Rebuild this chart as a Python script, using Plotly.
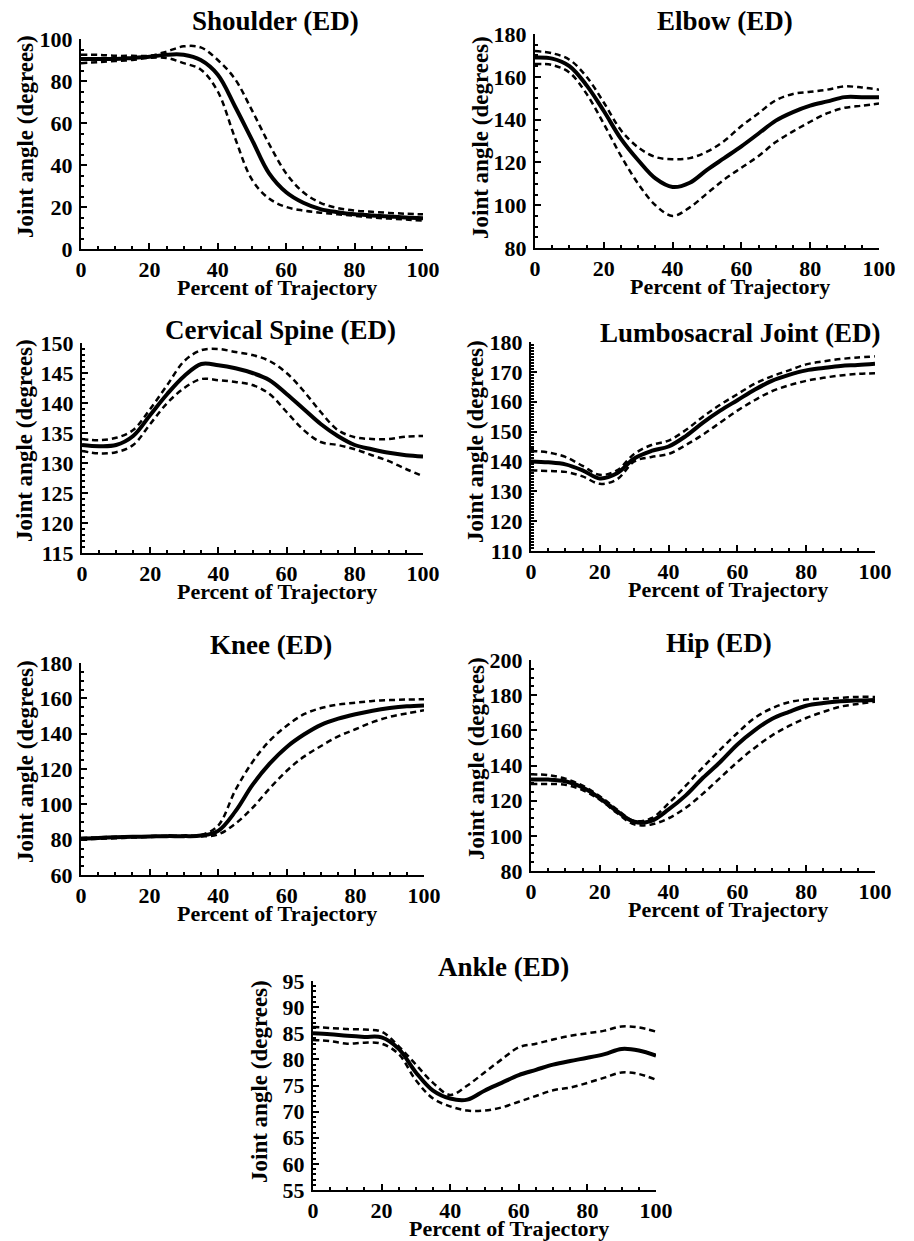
import plotly.graph_objects as go

# ---------------- data ----------------
pct = [0, 5, 10, 15, 20, 25, 30, 35, 40, 45, 50, 55, 60, 65, 70, 75, 80, 85, 90, 95, 100]

shoulder_mean = [90.5, 90.5, 90.5, 91, 91.5, 92.5, 92.5, 90, 83, 68, 52, 36, 27, 22, 19, 17.5, 16.5, 16, 15.5, 15, 14.7]
shoulder_upper = [92.5, 92.5, 92, 92, 92, 94, 96.5, 96, 90, 81, 66, 50, 36, 27, 22, 19.5, 18.3, 17.7, 17.2, 16.8, 16.5]
shoulder_lower = [88.5, 89, 89.5, 90, 91, 91, 88.5, 85.5, 75, 53, 33, 24, 20, 18.3, 17.3, 16.5, 15.8, 15, 14.5, 14, 13.5]

elbow_mean = [169, 168.5, 165, 156, 144, 131, 121, 112.5, 108.5, 110.5, 116.5, 122, 127.5, 133.5, 139.5, 143.5, 146.5, 148.5, 150.5, 150.5, 150.5]
elbow_upper = [172, 171, 168, 160, 148, 135, 127, 122.5, 121.5, 122, 125, 130, 137, 143, 149, 152, 153, 154, 155.5, 155, 154]
elbow_lower = [166, 165.5, 162, 152, 138, 123, 110, 100, 95, 99, 105.5, 112, 117.5, 123, 129.5, 134.5, 139, 143, 145.5, 146.5, 147.5]

cervical_mean = [133, 132.8, 133, 134.5, 138, 141.5, 144.5, 146.5, 146.3, 145.8, 145, 143.8, 141.5, 139, 136.5, 134.5, 133, 132.3, 131.7, 131.3, 131.1]
cervical_upper = [134, 133.8, 134.2, 135.5, 139, 143, 147, 148.8, 149, 148.5, 148, 147, 145, 142, 138.5, 135.5, 134.3, 134, 134, 134.4, 134.5]
cervical_lower = [132, 131.6, 131.8, 133, 136.5, 140, 142.5, 144, 143.8, 143.5, 143, 141.5, 138.5, 135.5, 133.5, 133, 132.3, 131.3, 130.3, 129, 127.8]

lumbo_mean = [140, 139.7, 139, 137, 134.3, 136, 141, 143.5, 145, 148.5, 153, 157, 160.5, 164, 167, 169, 170.5, 171.3, 172, 172.3, 172.7]
lumbo_upper = [143.5, 143, 141.5, 138.5, 135.5, 137, 142.5, 145.5, 147, 150.5, 155, 159, 162.5, 166, 168.5, 170.5, 172.5, 173.5, 174.3, 174.8, 175.2]
lumbo_lower = [137, 136.8, 136.5, 135, 132.5, 134, 140, 141.5, 142.5, 145.5, 149, 153, 157, 160.5, 163.5, 165.5, 167, 168, 168.8, 169.3, 169.5]

knee_mean = [80.5, 81, 81.3, 81.6, 81.8, 82, 82, 82.3, 85, 96, 111, 123, 132.5, 139.5, 145, 148.5, 151, 153, 154.5, 155.5, 156]
knee_upper = [81, 81.3, 81.6, 81.8, 82, 82.2, 82.3, 82.6, 88, 108, 124, 136, 144.5, 151, 154.5, 156.5, 157.5, 158.5, 159, 159.3, 159.5]
knee_lower = [80, 80.5, 80.8, 81.2, 81.5, 81.7, 81.8, 81.8, 83, 89, 98, 109, 119, 127, 133, 138.5, 142.5, 146.5, 149.5, 151.5, 153.2]

hip_mean = [132, 132, 131, 127.5, 121.5, 114, 108, 108.5, 115, 123, 133, 142, 152, 160, 166.5, 170.5, 174, 175.5, 176.5, 177, 177.3]
hip_upper = [135, 134.5, 132.5, 128.5, 122.5, 115, 108.5, 110, 118.5, 128.5, 139, 149, 158.5, 167, 172.5, 176, 177.5, 178, 178.5, 179, 179]
hip_lower = [129.5, 129.5, 129, 126, 120.5, 113, 106.5, 106.5, 110, 116, 124, 133, 142, 150, 157, 162.5, 167, 170.5, 173.5, 175, 176.3]

ankle_mean = [85, 84.8, 84.5, 84.3, 84.2, 82, 77.5, 74, 72.5, 72.3, 74, 75.5, 77, 78, 79, 79.7, 80.3, 81, 82, 81.7, 80.7]
ankle_upper = [86.2, 86, 85.8, 85.7, 85.3, 82.5, 79, 75.5, 73.2, 75, 77.5, 80, 82.3, 83, 83.8, 84.5, 85, 85.5, 86.3, 86.1, 85.3]
ankle_lower = [83.7, 83.5, 83, 83.2, 83, 81, 76, 72.5, 71, 70.2, 70.2, 70.8, 71.9, 73, 74.1, 74.6, 75.5, 76.5, 77.5, 77.2, 76.1]

titles = ["Shoulder (ED)", "Elbow (ED)", "Cervical Spine (ED)", "Lumbosacral Joint (ED)",
          "Knee (ED)", "Hip (ED)", "Ankle (ED)"]
x_title = "Percent of Trajectory"
y_title = "Joint angle (degrees)"

series = [
    (shoulder_mean, shoulder_upper, shoulder_lower),
    (elbow_mean, elbow_upper, elbow_lower),
    (cervical_mean, cervical_upper, cervical_lower),
    (lumbo_mean, lumbo_upper, lumbo_lower),
    (knee_mean, knee_upper, knee_lower),
    (hip_mean, hip_upper, hip_lower),
    (ankle_mean, ankle_upper, ankle_lower),
]

# ---------------- layout (pixel geometry) ----------------
W, H = 914, 1241
y_ranges = [(0, 100), (80, 180), (115, 150), (110, 180), (60, 180), (80, 200), (55, 95)]
y_major = [20, 20, 5, 10, 20, 20, 5]
y_minor = [5, 5, 1, 1, 5, 5, 1]
x_px = [(81, 423), (535, 879), (82, 423), (531, 875), (81, 424), (531, 875), (313, 656)]
y_px = [(39, 249), (34, 248), (343, 553), (342, 551), (663, 875), (660, 871), (981, 1190)]
title_px = [(275, 21), (725, 21), (280, 330), (740, 333), (271, 645), (719, 643), (503, 967)]
xt_px = [(277, 287), (730, 286), (277, 591), (728, 589), (277, 913), (728, 909), (509, 1228)]
yt_px = [(25, 137), (480, 137), (25, 441), (475, 442), (25, 762), (476, 759), (259, 1082)]

FONT = "Liberation Serif"

def px(p):
    return p / W

def py(p):
    return 1 - p / H

fig = go.Figure()
annotations = []
for i in range(7):
    xa = "x" if i == 0 else f"x{i+1}"
    ya = "y" if i == 0 else f"y{i+1}"
    mean, up, lo = series[i]
    for vals in (up, lo):
        fig.add_trace(go.Scatter(x=pct, y=vals, xaxis=xa, yaxis=ya, mode="lines",
                                 line=dict(color="black", width=2.5, dash="6px,4px", shape="spline"),
                                 showlegend=False, hoverinfo="skip"))
    fig.add_trace(go.Scatter(x=pct, y=mean, xaxis=xa, yaxis=ya, mode="lines",
                             line=dict(color="black", width=4, shape="spline"),
                             showlegend=False, hoverinfo="skip"))

    xkey = "xaxis" if i == 0 else f"xaxis{i+1}"
    ykey = "yaxis" if i == 0 else f"yaxis{i+1}"
    tickfont = dict(family=FONT, size=22, color="black", weight="bold")
    fig.layout[xkey] = dict(
        domain=[px(x_px[i][0]), px(x_px[i][1])], anchor=ya, range=[0, 100], automargin=False,
        tickmode="linear", tick0=0, dtick=20, ticks="inside", ticklen=6, tickwidth=2,
        tickcolor="black", showline=True, linewidth=2, linecolor="black",
        showgrid=False, zeroline=False, tickfont=tickfont, ticklabelstandoff=0,
        minor=dict(dtick=5, ticks="inside", ticklen=3, tickwidth=1.5, tickcolor="black", showgrid=False),
    )
    fig.layout[ykey] = dict(
        domain=[py(y_px[i][1]), py(y_px[i][0])], anchor=xa, range=list(y_ranges[i]), automargin=False,
        tickmode="linear", tick0=y_ranges[i][0], dtick=y_major[i], ticks="inside", ticklen=6, tickwidth=2,
        tickcolor="black", showline=True, linewidth=2, linecolor="black",
        showgrid=False, zeroline=False, tickfont=tickfont, ticklabelstandoff=2,
        minor=dict(dtick=y_minor[i], ticks="inside", ticklen=3, tickwidth=1.5, tickcolor="black", showgrid=False),
    )
    annotations.append(dict(text=titles[i], x=px(title_px[i][0]), y=py(title_px[i][1]),
                            xref="paper", yref="paper", xanchor="center", yanchor="middle",
                            showarrow=False, font=dict(family=FONT, size=27, color="black", weight="bold")))
    annotations.append(dict(text=x_title, x=px(xt_px[i][0]), y=py(xt_px[i][1]),
                            xref="paper", yref="paper", xanchor="center", yanchor="middle",
                            showarrow=False, font=dict(family=FONT, size=22, color="black", weight="bold")))
    annotations.append(dict(text=y_title, x=px(yt_px[i][0]), y=py(yt_px[i][1]), textangle=-90,
                            xref="paper", yref="paper", xanchor="center", yanchor="middle",
                            showarrow=False, font=dict(family=FONT, size=23, color="black", weight="bold")))

fig.update_layout(template="none", width=W, height=H, margin=dict(l=0, r=0, t=0, b=0, pad=0),
                  autosize=False, paper_bgcolor="white", plot_bgcolor="white", annotations=annotations)

fig.write_html("out.html",
               post_script="document.body.style.margin='0';document.body.style.overflow='hidden';")
